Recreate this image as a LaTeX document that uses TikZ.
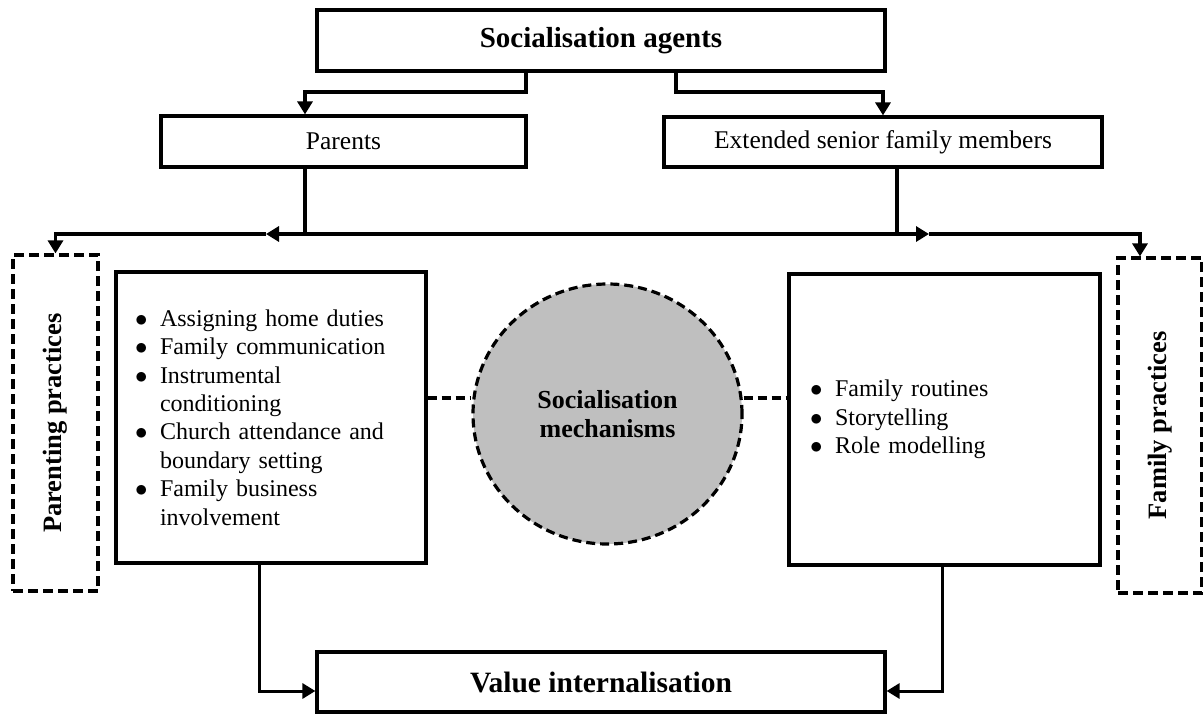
\documentclass[tikz,border=0pt]{standalone}
\usepackage{fontspec}
\setmainfont{Liberation Serif}
\usepackage{graphicx}
\usetikzlibrary{arrows.meta,shapes.geometric}
\definecolor{mechgray}{RGB}{191,191,191}
\newcommand{\bitem}[1]{\makebox[22pt][l]{\hspace*{-3pt}$\bullet$}#1}
\newcommand{\bcont}[1]{\hspace*{22pt}#1}
\begin{document}
\begin{tikzpicture}[x=1pt,y=-1pt,
  box/.style={draw, line width=3.2pt, rectangle, inner sep=0pt},
  dbox/.style={draw, line width=3.2pt, dash pattern=on 10pt off 5pt, rectangle, inner sep=0pt},
  conn/.style={line width=3.2pt},
  arr/.style={conn, -{Triangle[length=13pt,width=15pt]}},
  dline/.style={line width=3.2pt, dash pattern=on 9pt off 5pt},
  listbox/.style={box, align=left, minimum height=291pt, font=\fontsize{24}{28.4}\selectfont}
]
\useasboundingbox (0,0) rectangle (1203,713);

% nodes
\node[box, line width=3.6pt, minimum width=568pt, minimum height=61pt,
      font=\bfseries\fontsize{29}{34}\selectfont] (agents) at (601,40.5) {Socialisation agents};
\node[box, minimum width=365pt, minimum height=51pt,
      font=\fontsize{25.5}{30}\selectfont] (parents) at (343.5,141.5) {\raisebox{-2pt}{Parents}};
\node[box, minimum width=438pt, minimum height=50pt,
      font=\fontsize{25.5}{30}\selectfont] (extended) at (883,142) {\raisebox{-1pt}{Extended senior family members}};

\node[dbox, minimum width=85pt, minimum height=336pt,
      font=\bfseries\fontsize{26.5}{30}\selectfont] (pp) at (55.5,423) {\rotatebox{90}{Parenting practices}};
\node[dbox, minimum width=84pt, minimum height=335pt,
      font=\bfseries\fontsize{26.5}{30}\selectfont] (fp) at (1160,425.5) {\rotatebox{90}{Family practices}};

\node[listbox, inner xsep=22pt, text width=266pt, minimum width=310pt] (lbox) at (271,417.5)
  {\bitem{Assigning home duties}\\
   \bitem{Family communication}\\
   \bitem{Instrumental}\\
   \bcont{conditioning}\\
   \bitem{Church attendance and}\\
   \bcont{boundary setting}\\
   \bitem{Family business}\\
   \bcont{involvement}};

\node[listbox, inner xsep=24pt, text width=263pt, minimum width=311pt] (rbox) at (944.5,419.5)
  {\bitem{Family routines}\\
   \bitem{Storytelling}\\
   \bitem{Role modelling}};

\node[ellipse, draw, dline, fill=mechgray, minimum width=269pt, minimum height=260pt,
      inner sep=0pt, align=center, font=\bfseries\fontsize{26}{29}\selectfont] (mech) at (607.5,414)
  {Socialisation\\mechanisms};

\node[box, minimum width=568pt, minimum height=60pt,
      font=\bfseries\fontsize{29.5}{34}\selectfont] (value) at (601,682) {Value internalisation};

% helper coordinates
\coordinate (c0) at (526,92);
\coordinate (c1) at (676,92);
\coordinate (pj) at (305,234);
\coordinate (ej) at (897,234);
\coordinate (lt) at (266,234);
\coordinate (rt) at (929,234);
\coordinate (rd) at (1140,234);
\coordinate (dl) at (0,398);
\coordinate (lb) at (259,691);
\coordinate (rb) at (942,691);

% connectors
\draw[arr] (agents.south -| c0) -- (c0) -| (parents.north -| pj);
\draw[arr] (agents.south -| c1) -- (c1) -| (extended.north);
\draw[conn] (parents.south -| pj) -- (pj);
\draw[conn] (extended.south -| ej) -- (ej);
\draw[conn] (pj) -- (ej);
\draw[arr] (pj) -- (lt);
\draw[arr] (lt) -| (pp.north);
\draw[arr] (ej) -- (rt);
\draw[arr] (rt) -| (fp.north -| rd);

\draw[dline] (lbox.east |- dl) -- (mech.west |- dl);
\draw[dline] (mech.east |- dl) -- (rbox.west |- dl);

\draw[arr, line width=3pt] (lbox.south -| lb) -- (lb) -- (lb -| value.west);
\draw[arr, line width=3pt] (rbox.south -| rb) -- (rb) -- (rb -| value.east);
\end{tikzpicture}
\end{document}
